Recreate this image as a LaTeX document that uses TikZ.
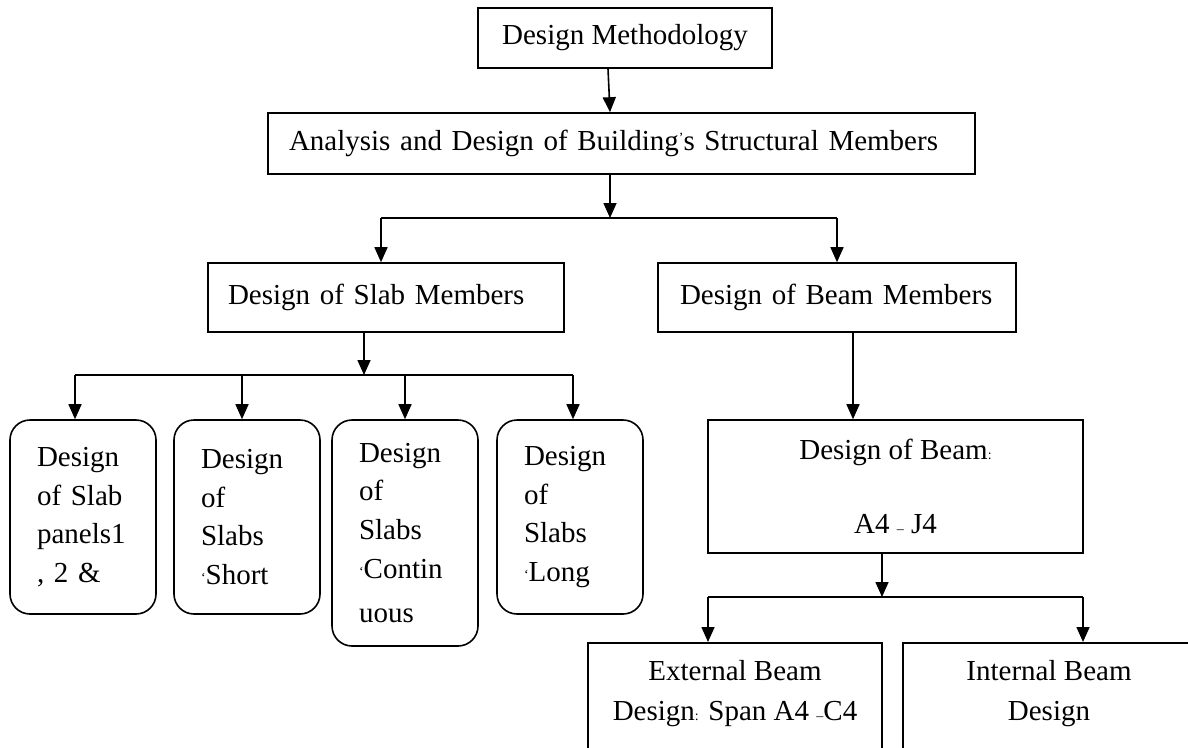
\documentclass[tikz,border=0pt]{standalone}
\usepackage{fontspec}
\setmainfont{Liberation Serif}
\usetikzlibrary{arrows.meta}
\newcommand{\smg}[1]{{\fontsize{14}{14}\selectfont #1}}
\newcommand{\smq}{\raisebox{2pt}{\smg{‘}}}
\begin{document}
\begin{tikzpicture}[x=1pt,y=-1pt,
  box/.style={draw, line width=1.6pt, inner ysep=0pt, font=\fontsize{29}{40}\selectfont},
  rbox/.style={box, rounded corners=20pt, align=left, inner xsep=27pt, inner ysep=0pt,
     minimum width=146pt, text width=92pt, font=\fontsize{29}{38.7}\selectfont},
  arr/.style={line width=1.6pt, -{Triangle[length=15pt,width=13pt]}},
  ln/.style={line width=1.6pt}]
\useasboundingbox (0,0) rectangle (1188,747);
\fill[white] (0,0) rectangle (1188,747);
\clip (0,0) rectangle (1188,747);

% top boxes
\node[box, minimum width=294pt, minimum height=60pt, inner xsep=0pt] (dm) at (625,38) {Design Methodology};
\node[box, minimum width=707pt, minimum height=61pt, inner xsep=21pt, text width=665pt, align=left] (an) at (621.5,143.5)
  {Analysis and Design of Building\raisebox{8pt}{\smg{’}}s Structural Members};
\node[box, minimum width=356pt, minimum height=69pt, inner xsep=20pt, text width=316pt, align=left] (slab) at (386,297.5)
  {Design of Slab Members};
\node[box, minimum width=358pt, minimum height=69pt, inner xsep=22pt, text width=314pt, align=left] (beam) at (837,297.5)
  {Design of Beam Members};

% slab sub-boxes
\node[rbox, minimum height=194pt] (s1) at (83,517) {Design\\of Slab\\panels1\\, 2 \&};
\node[rbox, minimum height=194pt] (s2) at (247,517) {Design\\of\\Slabs\\\smq Short};
\node[rbox, minimum height=226pt] (s3) at (405,533) {Design\\of\\Slabs\\\smq Contin\\[6pt]uous};
\node[rbox, minimum height=194pt] (s4) at (570,517) {Design\\of\\Slabs\\\smq Long};

% beam design box
\node[box, minimum width=375pt, minimum height=133pt, inner xsep=0pt, align=center] (bd) at (895.5,486.5)
  {Design of Beam\smg{:}\\[34pt]A4 \smg{–} J4};

% bottom boxes
\node[box, anchor=north, minimum width=294pt, inner xsep=0pt, inner ysep=18pt, align=center] (ext) at (735,642)
  {External Beam\\Design\smg{:} Span A4 \smg{–}C4\\[40pt]~};
\node[box, anchor=north, minimum width=292pt, inner xsep=0pt, inner ysep=18pt, align=center] (int) at (1049,642)
  {Internal Beam\\Design\\[40pt]~};

% branch points
\coordinate (b1) at (610,218);
\coordinate (b1l) at (381,218);
\coordinate (b1r) at (837,218);
\coordinate (b2) at (364,375);
\coordinate (b2l) at (75,375);
\coordinate (b2a) at (242,375);
\coordinate (b2b) at (405,375);
\coordinate (b2r) at (573,375);
\coordinate (b3) at (882,597);
\coordinate (b3l) at (708,597);
\coordinate (b3r) at (1083,597);

% connectors
\draw[arr] ([xshift=-17pt]dm.south) -- ([xshift=-11.5pt]an.north);
\draw[arr] ([xshift=-11.5pt]an.south) -- (b1);
\draw[ln] (b1l) -- (b1r);
\draw[arr] (b1l) -- (b1l |- slab.north);
\draw[arr] (b1r) -- (beam.north);

\draw[arr] (slab.south -| b2) -- (b2);
\draw[ln] (b2l) -- (b2r);
\draw[arr] (b2l) -- (b2l |- s1.north);
\draw[arr] (b2a) -- (b2a |- s2.north);
\draw[arr] (b2b) -- (b2b |- s3.north);
\draw[arr] (b2r) -- (b2r |- s4.north);

\draw[arr] ([xshift=16pt]beam.south) -- ([xshift=16pt]beam.south |- bd.north);
\draw[arr] (bd.south -| b3) -- (b3);
\draw[ln] (b3l) -- (b3r);
\draw[arr] (b3l) -- (b3l |- ext.north);
\draw[arr] (b3r) -- (b3r |- int.north);
\end{tikzpicture}
\end{document}
